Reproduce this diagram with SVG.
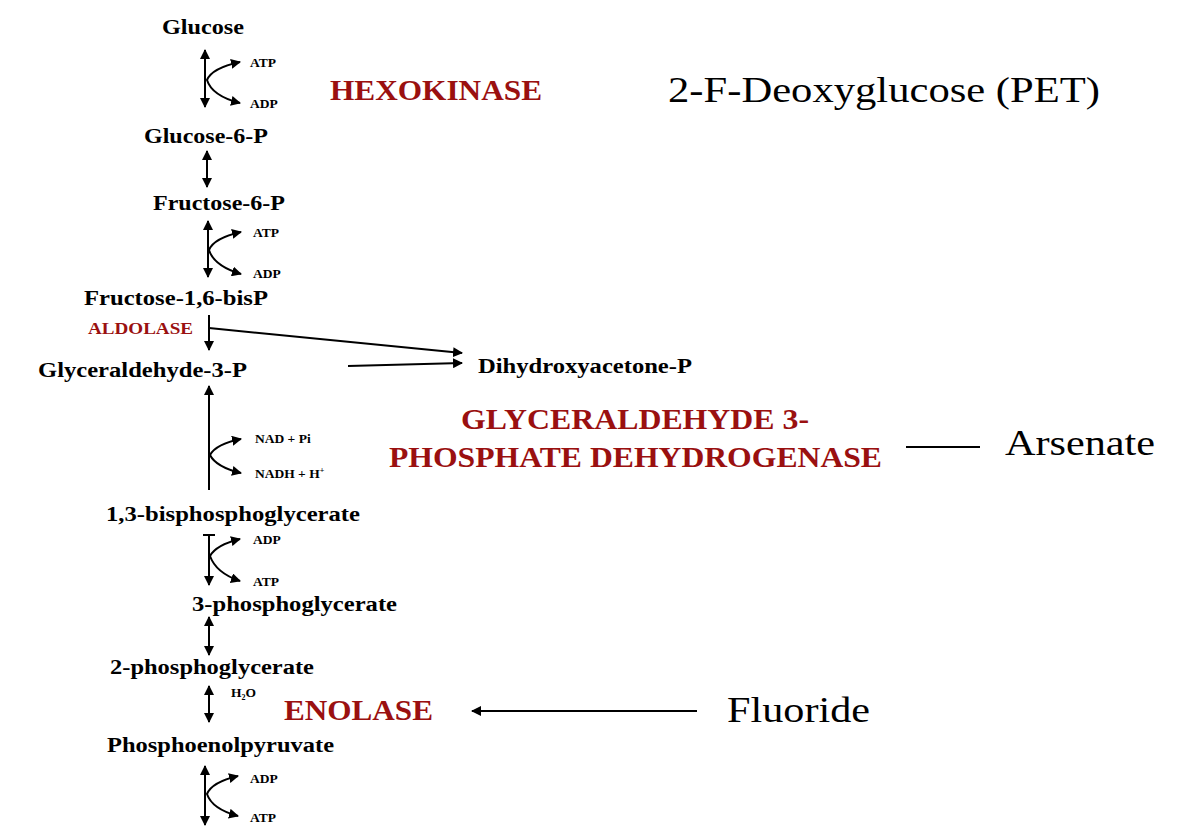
<svg xmlns="http://www.w3.org/2000/svg" width="1189" height="838" viewBox="0 0 1189 838">
<style>
.m{font-family:"Liberation Serif",serif;font-weight:bold;font-size:20px;fill:#000}
.c{font-family:"Liberation Serif",serif;font-weight:bold;font-size:13.5px;fill:#000}
.e{font-family:"Liberation Serif",serif;font-weight:bold;font-size:29px;fill:#9a1010}
.i{font-family:"Liberation Serif",serif;font-size:36px;fill:#000}
.l{stroke:#000;stroke-width:2;fill:none}
</style>
<defs>
<marker id="a" viewBox="0 0 10 10" refX="9" refY="5" markerWidth="5" markerHeight="5" orient="auto-start-reverse"><path d="M0,0L10,5L0,10z" fill="#000"/></marker>
</defs>
<rect width="1189" height="838" fill="#fff"/>
<g id="glucose"><text class="m" x="162" y="34" textLength="82" lengthAdjust="spacingAndGlyphs">Glucose</text></g>
<g id="g6p"><text class="m" x="144" y="143" textLength="124" lengthAdjust="spacingAndGlyphs">Glucose-6-P</text></g>
<g id="f6p"><text class="m" x="153" y="210" textLength="132" lengthAdjust="spacingAndGlyphs">Fructose-6-P</text></g>
<g id="f16bp"><text class="m" x="84" y="305" textLength="184" lengthAdjust="spacingAndGlyphs">Fructose-1,6-bisP</text></g>
<g id="g3p"><text class="m" x="38" y="377" textLength="209" lengthAdjust="spacingAndGlyphs">Glyceraldehyde-3-P</text></g>
<g id="dhap"><text class="m" x="478" y="373" textLength="214" lengthAdjust="spacingAndGlyphs">Dihydroxyacetone-P</text></g>
<g id="bpg"><text class="m" x="106" y="521" textLength="254" lengthAdjust="spacingAndGlyphs">1,3-bisphosphoglycerate</text></g>
<g id="pg3"><text class="m" x="192" y="611" textLength="205" lengthAdjust="spacingAndGlyphs">3-phosphoglycerate</text></g>
<g id="pg2"><text class="m" x="110" y="674" textLength="204" lengthAdjust="spacingAndGlyphs">2-phosphoglycerate</text></g>
<g id="pep"><text class="m" x="107" y="752" textLength="227" lengthAdjust="spacingAndGlyphs">Phosphoenolpyruvate</text></g>
<g id="cofactors">
<text class="c" x="250" y="67">ATP</text><text class="c" x="250" y="108">ADP</text>
<text class="c" x="253" y="237">ATP</text><text class="c" x="253" y="278">ADP</text>
<text class="c" x="255" y="443">NAD + Pi</text><text class="c" x="255" y="478">NADH + H<tspan font-size="8" dy="-5">+</tspan></text>
<text class="c" x="253" y="544">ADP</text><text class="c" x="253" y="586">ATP</text>
<text class="c" x="231" y="697">H<tspan font-size="8" dy="3">2</tspan><tspan dy="-3">O</tspan></text>
<text class="c" x="250" y="783">ADP</text><text class="c" x="250" y="822">ATP</text>
</g>
<g id="enzymes">
<text class="e" x="330" y="100" textLength="212" lengthAdjust="spacingAndGlyphs">HEXOKINASE</text>
<text class="e" x="88" y="334" style="font-size:16px" textLength="105" lengthAdjust="spacingAndGlyphs">ALDOLASE</text>
<text class="e" x="461" y="429" textLength="348" lengthAdjust="spacingAndGlyphs">GLYCERALDEHYDE 3-</text>
<text class="e" x="389" y="467" textLength="493" lengthAdjust="spacingAndGlyphs">PHOSPHATE DEHYDROGENASE</text>
<text class="e" x="284" y="720" textLength="149" lengthAdjust="spacingAndGlyphs">ENOLASE</text>
</g>
<g id="inhibitors">
<text class="i" x="668" y="102" textLength="432" lengthAdjust="spacingAndGlyphs">2-F-Deoxyglucose (PET)</text>
<text class="i" x="1005" y="455" textLength="150" lengthAdjust="spacingAndGlyphs">Arsenate</text>
<text class="i" x="727" y="722" textLength="143" lengthAdjust="spacingAndGlyphs">Fluoride</text>
</g>
<g id="connectors">
<line class="l" x1="205" y1="50" x2="205" y2="107" marker-start="url(#a)" marker-end="url(#a)"/>
<path class="l" d="M240,62 Q212,68 207,80 Q212,96 240,103" marker-start="url(#a)" marker-end="url(#a)"/>
<line class="l" x1="207" y1="151" x2="207" y2="187" marker-start="url(#a)" marker-end="url(#a)"/>
<line class="l" x1="208" y1="221" x2="208" y2="277" marker-start="url(#a)" marker-end="url(#a)"/>
<path class="l" d="M241,232 Q214,238 209,250 Q214,266 241,274" marker-start="url(#a)" marker-end="url(#a)"/>
<line class="l" x1="209" y1="315" x2="209" y2="350" marker-end="url(#a)"/>
<line class="l" x1="209" y1="328" x2="462" y2="353" marker-end="url(#a)"/>
<line class="l" x1="348" y1="366" x2="462" y2="363" marker-end="url(#a)"/>
<line class="l" x1="209" y1="386" x2="209" y2="490" marker-start="url(#a)"/>
<path class="l" d="M241,439 Q216,444 210,455 Q216,467 241,473" marker-start="url(#a)" marker-end="url(#a)"/>
<line class="l" x1="203" y1="535" x2="215" y2="535"/>
<line class="l" x1="209" y1="535" x2="209" y2="585" marker-end="url(#a)"/>
<path class="l" d="M240,539 Q216,545 210,556 Q216,573 240,581" marker-start="url(#a)" marker-end="url(#a)"/>
<line class="l" x1="209" y1="617" x2="209" y2="655" marker-start="url(#a)" marker-end="url(#a)"/>
<line class="l" x1="209" y1="686" x2="209" y2="722" marker-start="url(#a)" marker-end="url(#a)"/>
<line class="l" x1="697" y1="711" x2="472" y2="711" marker-end="url(#a)"/>
<line class="l" x1="906" y1="447" x2="980" y2="447"/>
<line class="l" x1="205" y1="766" x2="205" y2="825" marker-start="url(#a)" marker-end="url(#a)"/>
<path class="l" d="M238,776 Q212,782 207,794 Q212,809 238,816" marker-start="url(#a)" marker-end="url(#a)"/>
</g>
</svg>
